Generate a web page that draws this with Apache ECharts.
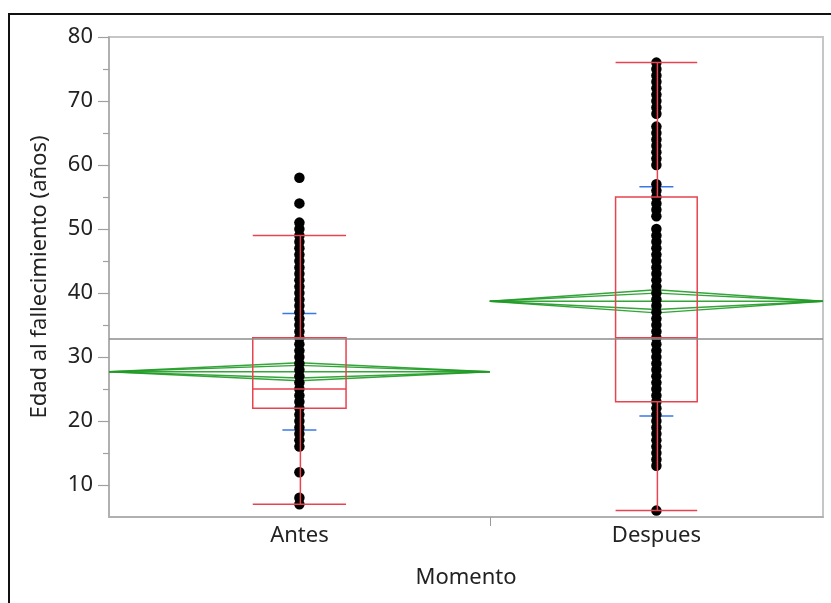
<!DOCTYPE html>
<html>
<head>
<meta charset="utf-8">
<script src="https://cdn.jsdelivr.net/npm/echarts@6/dist/echarts.min.js"></script>
<style>
  html, body { margin: 0; padding: 0; background: #ffffff; }
  #chart { width: 831px; height: 603px; }
</style>
</head>
<body>
<div id="chart"></div>
<script>
// Groups on the x axis; each band is as wide as its share of observations.
const categories = ['Antes', 'Despues'];
const groupCounts = [144, 126];

// Distinct ages observed in each group (points are stacked on the group centre).
const antesAges = [7, 8, 12, 16, 17, 18, 19, 20, 21, 22, 23, 24, 25, 26, 27, 28, 29, 30,
  31, 32, 33, 34, 35, 36, 37, 38, 39, 40, 41, 42, 43, 44, 45, 46, 47, 48, 49, 50, 51, 54, 58];
const despuesAges = [6, 13, 14, 15, 16, 17, 18, 19, 20, 21, 22, 23, 24, 25, 26, 27, 28, 29, 30,
  31, 32, 33, 34, 35, 36, 37, 38, 39, 40, 41, 42, 43, 44, 45, 46, 47, 48, 49, 50,
  52, 53, 54, 55, 56, 57, 60, 61, 62, 63, 64, 65, 66, 68, 69, 70, 71, 72, 73, 74, 75, 76];

// Box plot summaries per group.
const whiskerLow = [7, 6];
const quartile1 = [22, 23];
const medians = [25, 33];
const quartile3 = [33, 55];
const whiskerHigh = [49, 76];

// Means with 95% confidence limits and standard deviations.
const means = [27.7, 38.7];
const ciLower = [26.3, 36.9];
const ciUpper = [29.1, 40.5];
const stdDevs = [9.1, 17.9];
const grandMean = 32.8;

// Axis ticks.
const yMajorTicks = [10, 20, 30, 40, 50, 60, 70, 80];
const yMinorTicks = [15, 25, 35, 45, 55, 65, 75];

const FONT = "'Noto Sans', 'Open Sans', sans-serif";
const FONT_SIZE = 22;
const GREEN = '#1f9a25';
const RED = '#e8434f';
const BLUE = '#3a78e6';

const total = groupCounts.reduce((a, b) => a + b, 0);
const bandStart = groupCounts.map((_, i) => groupCounts.slice(0, i).reduce((a, b) => a + b, 0));
const bandEnd = groupCounts.map((n, i) => bandStart[i] + n);
const bandCenter = groupCounts.map((n, i) => bandStart[i] + n / 2);
const BOX_FRACTION = 0.245;

const pointData = [];
antesAges.forEach(v => pointData.push([bandCenter[0], v]));
despuesAges.forEach(v => pointData.push([bandCenter[1], v]));

const groupIdx = categories.map((_, i) => [i]);

function renderDiamond(params, api) {
  const i = api.value(0);
  const s = bandStart[i], e = bandEnd[i], c = bandCenter[i], m = means[i];
  const overlap = (ciUpper[i] - ciLower[i]) / 2 / Math.SQRT2;
  const L = api.coord([s, m]), R = api.coord([e, m]);
  const T = api.coord([c, ciUpper[i]]), B = api.coord([c, ciLower[i]]);
  const oT = api.coord([c, m + overlap]), oB = api.coord([c, m - overlap]);
  const st = { stroke: GREEN, fill: null, lineWidth: 1.4, opacity: 0.9 };
  return {
    type: 'group',
    children: [
      { type: 'polygon', shape: { points: [L, T, R, B] }, style: st },
      { type: 'polyline', shape: { points: [L, oT, R] }, style: st },
      { type: 'polyline', shape: { points: [L, oB, R] }, style: st },
      { type: 'line', shape: { x1: L[0], y1: L[1], x2: R[0], y2: R[1] }, style: st }
    ]
  };
}

function renderBox(params, api) {
  const i = api.value(0);
  const c = bandCenter[i];
  const half = (bandEnd[i] - bandStart[i]) * BOX_FRACTION / 2;
  const p = (x, y) => api.coord([x, y]);
  const st = { stroke: RED, fill: null, lineWidth: 1.5 };
  const q1 = p(c - half, quartile1[i]), q3 = p(c + half, quartile3[i]);
  const md1 = p(c - half, medians[i]), md2 = p(c + half, medians[i]);
  const wl = p(c, whiskerLow[i]), wh = p(c, whiskerHigh[i]);
  const b1 = p(c, quartile1[i]), b3 = p(c, quartile3[i]);
  const capL1 = p(c - half, whiskerLow[i]), capL2 = p(c + half, whiskerLow[i]);
  const capH1 = p(c - half, whiskerHigh[i]), capH2 = p(c + half, whiskerHigh[i]);
  return {
    type: 'group',
    children: [
      { type: 'rect', shape: { x: q1[0], y: q3[1], width: q3[0] - q1[0], height: q1[1] - q3[1] }, style: st },
      { type: 'line', shape: { x1: md1[0], y1: md1[1], x2: md2[0], y2: md2[1] }, style: st },
      { type: 'line', shape: { x1: b3[0] + 1, y1: b3[1], x2: wh[0] + 1, y2: wh[1] }, style: st },
      { type: 'line', shape: { x1: b1[0] + 1, y1: b1[1], x2: wl[0] + 1, y2: wl[1] }, style: st },
      { type: 'line', shape: { x1: capH1[0], y1: capH1[1], x2: capH2[0], y2: capH2[1] }, style: st },
      { type: 'line', shape: { x1: capL1[0], y1: capL1[1], x2: capL2[0], y2: capL2[1] }, style: st }
    ]
  };
}

function renderStdDev(params, api) {
  const i = api.value(0);
  const c = bandCenter[i];
  const up = api.coord([c, means[i] + stdDevs[i]]);
  const dn = api.coord([c, means[i] - stdDevs[i]]);
  const hw = 17;
  const st = { stroke: BLUE, lineWidth: 1.5 };
  return {
    type: 'group',
    children: [
      { type: 'line', shape: { x1: up[0] - hw, y1: up[1], x2: up[0] + hw, y2: up[1] }, style: st },
      { type: 'line', shape: { x1: dn[0] - hw, y1: dn[1], x2: dn[0] + hw, y2: dn[1] }, style: st }
    ]
  };
}

const chart = echarts.init(document.getElementById('chart'), null, { renderer: 'canvas' });
chart.setOption({
  animation: false,
  backgroundColor: '#ffffff',
  textStyle: { fontFamily: FONT },
  graphic: [{
    type: 'rect',
    shape: { x: 9, y: 14, width: 900, height: 700 },
    style: { stroke: '#111111', lineWidth: 2, fill: null },
    silent: true
  }],
  grid: {
    left: 109, right: 8, top: 37, bottom: 86,
    show: true, borderColor: '#c6c6c6', borderWidth: 2, backgroundColor: 'transparent'
  },
  xAxis: {
    type: 'value',
    min: 0, max: total,
    name: 'Momento',
    nameLocation: 'middle',
    nameGap: 50,
    nameTextStyle: { fontSize: FONT_SIZE, color: '#222', fontFamily: FONT },
    axisLine: { show: true, lineStyle: { color: '#b0b0b0', width: 2 } },
    axisTick: { show: true, customValues: [bandEnd[0]], length: 9, lineStyle: { color: '#9a9a9a', width: 1 } },
    axisLabel: {
      show: true,
      customValues: bandCenter,
      formatter: v => {
        const k = bandCenter.findIndex(c => Math.abs(c - v) < 1e-6);
        return k >= 0 ? categories[k] : '';
      },
      fontSize: FONT_SIZE, color: '#222', margin: 8, fontFamily: FONT
    },
    splitLine: { show: false }
  },
  yAxis: [{
    type: 'value',
    position: 'left',
    min: 5, max: 80, interval: 5,
    name: 'Edad al fallecimiento (años)',
    nameLocation: 'middle',
    nameGap: 58,
    nameRotate: 90,
    nameTextStyle: { fontSize: FONT_SIZE, color: '#222', fontFamily: FONT },
    axisLine: { show: true, lineStyle: { color: '#b0b0b0', width: 2 } },
    axisTick: { show: true, customValues: yMajorTicks, length: 11, lineStyle: { color: '#a0a0a0', width: 1.2 } },
    axisLabel: { customValues: yMajorTicks, fontSize: FONT_SIZE, color: '#222', margin: 16, fontFamily: FONT },
    splitLine: { show: false }
  }, {
    type: 'value',
    position: 'left',
    min: 5, max: 80, interval: 5,
    axisLine: { show: false },
    axisTick: { show: true, customValues: yMinorTicks, length: 6, lineStyle: { color: '#a0a0a0', width: 1.2 } },
    axisLabel: { show: false },
    splitLine: { show: false }
  }],
  series: [{
    name: 'diamonds',
    type: 'custom',
    z: 1,
    data: groupIdx,
    renderItem: renderDiamond,
    markLine: {
      silent: true,
      symbol: ['none', 'none'],
      label: { show: false },
      lineStyle: { color: '#8c8c8c', width: 1.5, type: 'solid' },
      data: [{ yAxis: grandMean }]
    }
  }, {
    name: 'stddev',
    type: 'custom',
    z: 2,
    data: groupIdx,
    renderItem: renderStdDev
  }, {
    name: 'ages',
    type: 'scatter',
    z: 3,
    symbol: 'circle',
    symbolSize: 10.5,
    itemStyle: { color: '#000000', opacity: 1 },
    data: pointData
  }, {
    name: 'boxes',
    type: 'custom',
    z: 4,
    data: groupIdx,
    renderItem: renderBox
  }]
});
</script>
</body>
</html>
